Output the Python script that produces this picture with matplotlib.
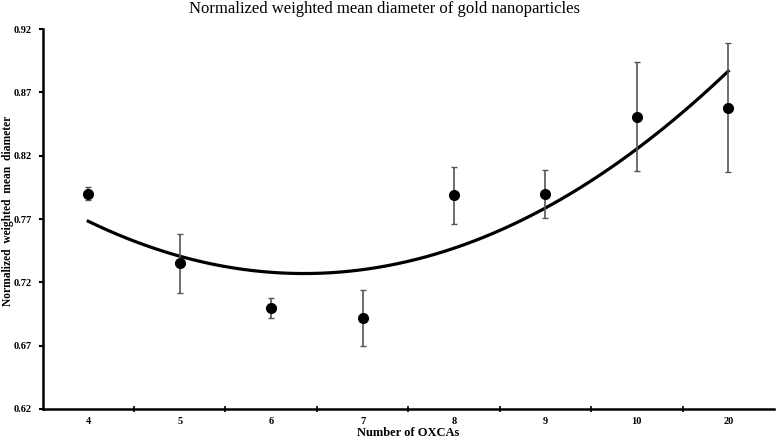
import numpy as np
import matplotlib
matplotlib.use("Agg")
import matplotlib.pyplot as plt

# number of OXCAs (category labels) and measured values
oxca_labels = ["4", "5", "6", "7", "8", "9", "10", "20"]
mean_diameter = [0.790, 0.735, 0.700, 0.692, 0.789, 0.790, 0.851, 0.858]
error = [0.005, 0.023, 0.008, 0.022, 0.0225, 0.019, 0.043, 0.051]
y_ticks = [0.62, 0.67, 0.72, 0.77, 0.82, 0.87, 0.92]


def draw_fig():
    plt.rcParams['font.family'] = ['Liberation Serif', 'DejaVu Serif']
    fig = plt.figure(figsize=(7.76, 4.42), dpi=100)
    ax = fig.add_axes([0.0548, 0.0747, 0.9426, 0.8593])

    x = np.arange(1, len(oxca_labels) + 1)

    # Excel-like 2nd order polynomial trendline over category positions
    coef = np.polyfit(x, mean_diameter, 2)
    xs = np.linspace(1, len(x), 200)
    ax.plot(xs, np.polyval(coef, xs), color="black", linewidth=2.3, zorder=2)

    ax.errorbar(x, mean_diameter, yerr=error, fmt="o", color="black",
                ecolor="#555555", elinewidth=1.2, capsize=2.5, capthick=1.0,
                markersize=7, zorder=3)

    ax.set_xlim(0.5, len(x) + 0.5)
    ax.set_ylim(0.62, 0.92)
    ax.set_xticks(x)
    ax.set_xticklabels(oxca_labels, fontsize=7.5, fontweight="bold")
    ax.set_xticks(np.arange(1.5, len(x), 1.0), minor=True)
    ax.tick_params(axis="x", which="major", length=0, pad=6)
    ax.tick_params(axis="x", which="minor", length=5, width=1.2, direction="inout")
    ax.set_yticks(y_ticks)
    ax.set_yticklabels(["%.2f" % v for v in y_ticks], fontsize=7.5, fontweight="bold")
    ax.tick_params(axis="y", length=3, width=1.5, direction="out", pad=4.5)

    for side in ["top", "right"]:
        ax.spines[side].set_visible(False)
    ax.spines["left"].set_linewidth(1.8)
    ax.spines["bottom"].set_linewidth(1.8)

    ax.set_xlabel("Number of OXCAs", fontsize=9, fontweight="bold")
    ax.xaxis.set_label_coords(0.5, -0.047)
    ax.set_ylabel("Normalized  weighted  mean  diameter", fontsize=8.3, fontweight="bold")
    ax.yaxis.set_label_coords(-0.039, 0.521)
    fig.text(0.496, 0.997, "Normalized weighted mean diameter of gold nanoparticles",
             ha="center", va="top", fontsize=12)

    fig.savefig("out.png", dpi=100)


def main():
    draw_fig()


if __name__ == '__main__':
    main()
